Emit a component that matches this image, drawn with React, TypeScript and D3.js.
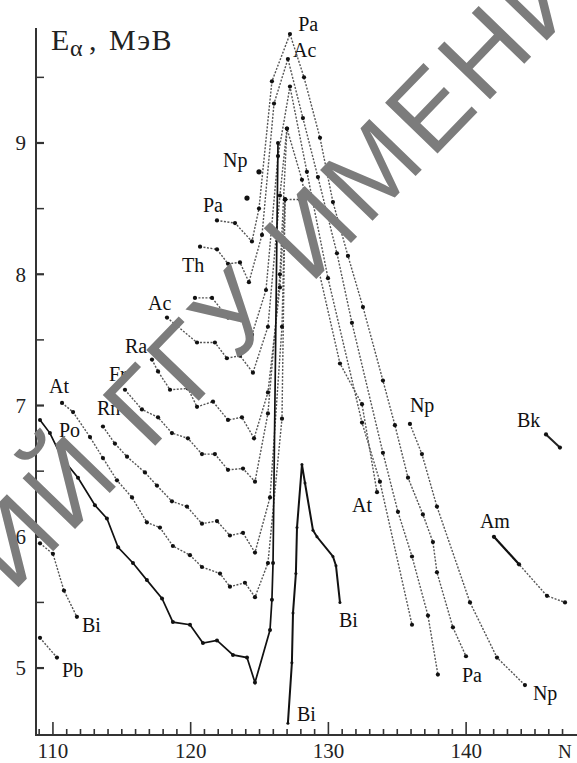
import React from "react";
import * as d3 from "d3";

// axis ranges (neutron number N, alpha energy in MeV)
const nRange = [108.77, 148.05];
const eRange = [4.49, 9.876];
const eTicks = [5, 5.5, 6, 6.5, 7, 7.5, 8, 8.5, 9, 9.5];
const eTickLabels = [5, 6, 7, 8, 9];
const nTicks = d3.range(109, 148);
const nTickLabels = [110, 120, 130, 140];

// series: [N, E]
const pb = [[109.06, 5.23], [110.29, 5.08]];
const biLeft = [[109.06, 5.95], [110.0, 5.87], [110.8, 5.59], [111.74, 5.39]];
const po = [[109.06, 6.89], [109.78, 6.79], [110.66, 6.6], [111.82, 6.45], [113.05, 6.24], [113.92, 6.14], [114.73, 5.92], [115.81, 5.8], [116.82, 5.67], [117.92, 5.53], [118.71, 5.35], [119.95, 5.33], [120.89, 5.19], [121.91, 5.21], [123.07, 5.1], [124.09, 5.08], [124.67, 4.89], [125.76, 5.29], [125.9, 5.52], [125.98, 5.8], [126.34, 9.0]];
const at = [[110.66, 7.02], [111.46, 6.95], [112.69, 6.76], [113.63, 6.6], [114.65, 6.43], [115.74, 6.3], [116.82, 6.11], [117.77, 6.07], [118.71, 5.93], [119.95, 5.86], [120.82, 5.77], [122.13, 5.72], [122.85, 5.62], [123.94, 5.65], [124.67, 5.54], [125.61, 5.8], [126.63, 6.9], [126.85, 8.57]];
const rn = [[113.63, 6.84], [114.5, 6.71], [115.38, 6.61], [116.68, 6.49], [117.55, 6.39], [118.64, 6.27], [119.73, 6.23], [120.82, 6.1], [121.91, 6.12], [122.85, 6.01], [123.8, 6.03], [124.67, 5.88], [125.76, 6.3], [126.63, 7.6], [126.85, 8.57]];
const fr = [[115.23, 7.12], [116.46, 6.97], [117.63, 6.91], [118.64, 6.79], [119.8, 6.75], [120.82, 6.63], [121.76, 6.63], [122.71, 6.51], [123.8, 6.52], [124.67, 6.42], [125.61, 6.94], [126.48, 8.0], [126.99, 9.11]];
const ra = [[117.19, 7.35], [117.63, 7.26], [118.5, 7.12], [119.8, 7.13], [120.46, 6.99], [121.62, 7.03], [122.71, 6.89], [123.72, 6.91], [124.6, 6.75], [125.61, 7.1], [126.48, 7.9], [126.85, 8.57], [127.93, 8.57], [129.17, 8.09]];
const acLow = [[118.28, 7.67], [120.46, 7.48], [121.76, 7.48], [122.63, 7.36], [123.58, 7.38], [124.52, 7.25], [125.61, 7.6], [126.48, 8.6], [126.99, 9.11], [128.08, 8.72], [129.17, 8.09], [130.84, 7.32], [132.44, 7.01], [133.53, 6.34]];
const ac = [[120.31, 7.82], [121.55, 7.82], [122.71, 7.67], [123.43, 7.67], [124.45, 7.54], [125.47, 7.88], [126.34, 8.9], [127.21, 9.43], [128.44, 8.78], [129.97, 7.97], [132.44, 6.87], [133.74, 6.42], [136.07, 5.33]];
const th = [[120.68, 8.21], [121.91, 8.19], [122.71, 8.08], [123.58, 8.09], [124.23, 7.94], [125.18, 8.3], [126.05, 9.3], [127.06, 9.64], [128.15, 9.19], [129.24, 8.74], [130.62, 8.16], [131.71, 7.63], [133.96, 6.64], [135.05, 6.19], [136.07, 5.85], [137.23, 5.4], [137.95, 4.95]];
const pa = [[121.91, 8.41], [123.22, 8.39], [124.45, 8.25], [124.96, 8.5], [125.9, 9.47], [127.21, 9.83], [128.23, 9.5], [129.39, 9.04], [130.33, 8.55], [131.42, 8.14], [132.51, 7.75], [133.96, 7.19], [134.83, 6.85], [135.78, 6.45], [136.86, 6.17], [137.59, 5.96], [137.88, 5.73], [139.04, 5.31], [139.99, 5.09]];
const npLeft = [[124.09, 8.58], [124.96, 8.78]];
const npRight = [[135.92, 6.86], [136.79, 6.63], [137.88, 6.23], [140.28, 5.5], [142.24, 5.08], [144.27, 4.87]];
const biRight = [[127.06, 4.58], [127.35, 5.04], [127.43, 5.42], [127.64, 5.72], [127.72, 6.07], [128.08, 6.55], [128.3, 6.41], [128.88, 6.05], [129.17, 6.0], [130.33, 5.85], [130.55, 5.78], [130.84, 5.5]];
const am = [[142.02, 6.0], [143.84, 5.79], [145.87, 5.55], [147.18, 5.5]];
const bk = [[145.8, 6.78], [146.81, 6.68]];

// element labels: [text, N, E] (baseline position)
const labels: [string, number, number][] = [
  ["Pa", 127.81, 9.853], ["Ac", 127.43, 9.655], ["Np", 122.35, 8.817], ["Pa", 120.89, 8.474],
  ["Th", 119.37, 8.017], ["Ac", 116.9, 7.728], ["Ra", 115.23, 7.4], ["Fr", 114.07, 7.187],
  ["Rn", 113.2, 6.928], ["At", 109.71, 7.095], ["Po", 110.44, 6.76], ["Bi", 112.11, 5.275],
  ["Pb", 110.66, 4.932], ["Bi", 130.77, 5.313], ["Bi", 127.72, 4.597], ["At", 131.71, 6.189],
  ["Pa", 139.7, 4.894], ["Np", 144.85, 4.757], ["Am", 141.0, 6.067], ["Np", 135.92, 6.951],
  ["Bk", 143.69, 6.836],
];

const dotted = [pb, biLeft, at, rn, fr, ra, acLow, ac, th, pa, npRight, am];

export default function App() {
  const x = d3.scaleLinear().domain(nRange).range([36, 577]);
  const y = d3.scaleLinear().domain(eRange).range([735, 28]);
  const line = d3.line<number[]>().x((d) => x(d[0])).y((d) => y(d[1]));
  const serif = "'Liberation Serif', 'DejaVu Serif', serif";

  const dots = (pts: number[][], r: number, key: string) =>
    pts.map((d, i) => <circle key={key + i} cx={x(d[0])} cy={y(d[1])} r={r} fill="#111" />);

  return (
    <svg width={577} height={763} style={{ position: "absolute", left: 0, top: 0, background: "#fff" }}>
      <rect width={577} height={763} fill="#fff" />
      {/* axes */}
      <line x1={36} x2={36} y1={28} y2={735} stroke="#333" strokeWidth={2} />
      <line x1={35} x2={577} y1={735} y2={735} stroke="#333" strokeWidth={2} />
      {eTicks.map((t) => (
        <line key={"et" + t} x1={36} x2={44} y1={y(t)} y2={y(t)} stroke="#333"
          strokeWidth={Number.isInteger(t) ? 2.2 : 1.5} />
      ))}
      {eTickLabels.map((t) => (
        <text key={"el" + t} x={26} y={y(t)} dy="0.35em" textAnchor="end" fontFamily={serif}
          fontSize={21} fill="#222">{t}</text>
      ))}
      {nTicks.map((t) => (
        <line key={"nt" + t} x1={x(t)} x2={x(t)} y1={735} y2={t % 10 === 0 ? 722 : 729}
          stroke="#333" strokeWidth={1.6} />
      ))}
      {nTickLabels.map((t) => (
        <text key={"nl" + t} x={x(t)} y={758} textAnchor="middle" fontFamily={serif}
          fontSize={21} fill="#222">{t}</text>
      ))}
      <text x={558} y={758} fontFamily={serif} fontSize={19} fill="#222">N</text>
      <g fontFamily={serif} fill="#222">
        <text x={51} y={50} fontSize={30}>E</text>
        <text x={70} y={56} fontSize={24}>α</text>
        <text x={89} y={50} fontSize={30}>,</text>
        <text x={109} y={50} fontSize={30} letterSpacing={1.5}>MэВ</text>
      </g>

      {/* dotted curves */}
      {dotted.map((s, i) => (
        <path key={"s" + i} d={line(s) || ""} fill="none" stroke="#555" strokeWidth={1.4}
          strokeDasharray="2 1.5" />
      ))}
      <path d={line(po) || ""} fill="none" stroke="#111" strokeWidth={1.7} />
      <path d={line(biRight) || ""} fill="none" stroke="#111" strokeWidth={2} />
      <path d={line(am.slice(0, 2)) || ""} fill="none" stroke="#111" strokeWidth={2.2} />
      <path d={line(bk) || ""} fill="none" stroke="#222" strokeWidth={2} />

      {dotted.map((s, i) => <g key={"d" + i}>{dots(s, 2.1, "d" + i + "_")}</g>)}
      {dots(po, 2, "po")}
      {dots(npLeft, 2.6, "npl")}
      {dots(biRight, 1.5, "bir")}
      {dots(bk, 2.1, "bk")}

      {labels.map(([t, n, e], i) => (
        <text key={"lb" + i} x={x(n)} y={y(e)} fontFamily={serif} fontSize={20} fill="#111">{t}</text>
      ))}

      {/* watermark */}
      <text transform="translate(-40,648) rotate(-46)" fontFamily="'Liberation Sans', Arial, sans-serif"
        fontSize={106} letterSpacing={5} fill="#7c7c7c">РИЙ ГГУ ИМЕНИ</text>
    </svg>
  );
}
